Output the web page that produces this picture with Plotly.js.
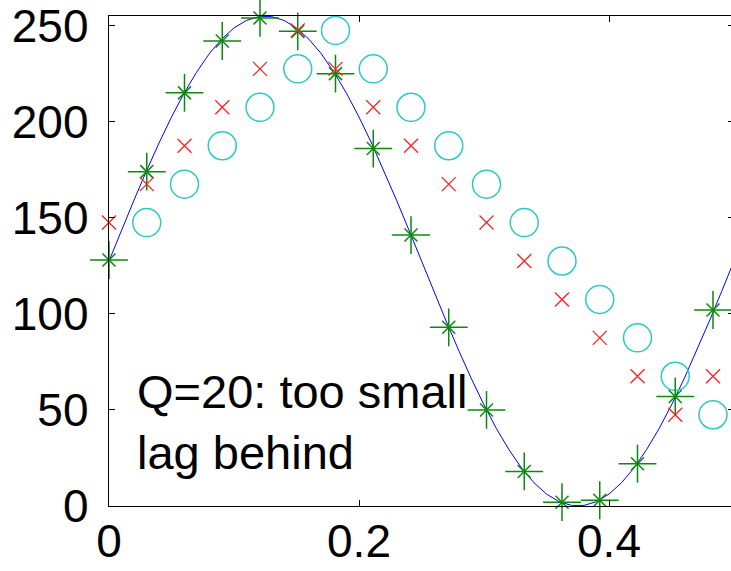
<!DOCTYPE html>
<html>
<head>
<meta charset="utf-8">
<script src="https://cdn.plot.ly/plotly-3.0.1.min.js"></script>
<style>
  html, body { margin: 0; padding: 0; background: #ffffff; overflow: hidden; }
  #chart { width: 740px; height: 571px; }
</style>
</head>
<body>
<div id="chart"></div>
<script>
// Continuous signal (blue line)
const signalT = [0, 0.01, 0.02, 0.03, 0.04, 0.05, 0.06, 0.07, 0.08, 0.09,
  0.10, 0.11, 0.12, 0.13, 0.14, 0.15, 0.16, 0.17, 0.18, 0.19,
  0.20, 0.21, 0.22, 0.23, 0.24, 0.25, 0.26, 0.27, 0.28, 0.29,
  0.30, 0.31, 0.32, 0.33, 0.34, 0.35, 0.36, 0.37, 0.38, 0.39,
  0.40, 0.41, 0.42, 0.43, 0.44, 0.45, 0.46, 0.47, 0.48, 0.49, 0.50];
const signalY = [127.5, 143.5, 159.2, 174.4, 188.9, 202.4, 214.8, 225.7, 235.2, 242.9,
  248.8, 252.7, 254.7, 254.7, 252.7, 248.8, 242.9, 235.2, 225.7, 214.8,
  202.4, 188.9, 174.4, 159.2, 143.5, 127.5, 111.5, 95.8, 80.6, 66.1,
  52.6, 40.2, 29.3, 19.8, 12.1, 6.2, 2.3, 0.3, 0.3, 2.3,
  6.2, 12.1, 19.8, 29.3, 40.2, 52.6, 66.1, 80.6, 95.8, 111.5, 127.5];

// Sample instants
const sampleT = [0, 0.0302, 0.0604, 0.0906, 0.1208, 0.151, 0.1812, 0.2114, 0.2416,
  0.2718, 0.302, 0.3322, 0.3624, 0.3926, 0.4228, 0.453, 0.4832];
// Sampled signal (green stars)
const sampleY = [128, 174, 215, 242, 254, 247, 225, 186, 141, 93, 50, 18, 2, 3, 22, 57, 102];
// Tracked / quantized output, step Q=20 (red crosses)
const trackY = [147.5, 167.5, 187.5, 207.5, 227.5, 247.5, 227.5, 207.5, 187.5,
  167.5, 147.5, 127.5, 107.5, 87.5, 67.5, 47.5, 67.5];
// Output one sample later (cyan circles)
const delayT = [0.0302, 0.0604, 0.0906, 0.1208, 0.151, 0.1812, 0.2114, 0.2416,
  0.2718, 0.302, 0.3322, 0.3624, 0.3926, 0.4228, 0.453, 0.4832];
const delayY = [147.5, 167.5, 187.5, 207.5, 227.5, 247.5, 227.5, 207.5, 187.5,
  167.5, 147.5, 127.5, 107.5, 87.5, 67.5, 47.5];

const xTicks = [0, 0.2, 0.4];
const xTickText = ['0', '0.2', '0.4'];
const yTicks = [0, 50, 100, 150, 200, 250];
const yTickText = ['0', '50', '100', '150', '200', '250'];

const noteText = 'Q=20: too small<br>lag behind';

const green = '#0b8a0b';

const traces = [
  { x: signalT, y: signalY, mode: 'lines', type: 'scatter',
    line: { color: '#0000ff', width: 1 }, hoverinfo: 'skip' },
  { x: delayT, y: delayY, mode: 'markers', type: 'scatter', cliponaxis: false,
    marker: { symbol: 'circle-open', size: 28, color: '#2cc8c8', line: { color: '#2cc8c8', width: 1.5 } } },
  { x: sampleT, y: sampleY, mode: 'markers', type: 'scatter', cliponaxis: false,
    marker: { symbol: 'cross-thin-open', size: 27, color: green, line: { color: green, width: 1.5 } } },
  { x: sampleT, y: sampleY, mode: 'markers', type: 'scatter', cliponaxis: false,
    marker: { symbol: 'x-thin-open', size: 13, color: green, line: { color: green, width: 1.5 } } },
  { x: sampleT, y: trackY, mode: 'markers', type: 'scatter', cliponaxis: false,
    marker: { symbol: 'x-thin-open', size: 14, color: '#ff2020', line: { color: '#ff2020', width: 1.3 } } }
];

const axisCommon = {
  showline: true, linecolor: '#000000', linewidth: 1.3, mirror: 'ticks',
  ticks: 'inside', ticklen: 6, tickwidth: 1, tickcolor: '#000000',
  showgrid: false, zeroline: false, ticklabeloverflow: 'allow',
  tickfont: { family: 'Liberation Sans, Arial, sans-serif', size: 46, color: '#000000' }
};

const layout = {
  width: 740, height: 571,
  margin: { l: 109, r: 6, t: 16, b: 65 },
  paper_bgcolor: '#ffffff', plot_bgcolor: '#ffffff',
  showlegend: false,
  xaxis: Object.assign({}, axisCommon, {
    range: [0, 0.5], tickmode: 'array', tickvals: xTicks, ticktext: xTickText,
    ticklabelstandoff: -6
  }),
  yaxis: Object.assign({}, axisCommon, {
    range: [0, 255], tickmode: 'array', tickvals: yTicks, ticktext: yTickText,
    ticklabelstandoff: 10
  }),
  annotations: [{
    xref: 'x', yref: 'y', x: 0.021, y: 74.5, xanchor: 'left', yanchor: 'top',
    text: noteText, align: 'left', showarrow: false,
    font: { family: 'Liberation Sans, Arial, sans-serif', size: 47, color: '#000000' }
  }]
};

Plotly.newPlot('chart', traces, layout, { displayModeBar: false, staticPlot: true });
</script>
</body>
</html>
